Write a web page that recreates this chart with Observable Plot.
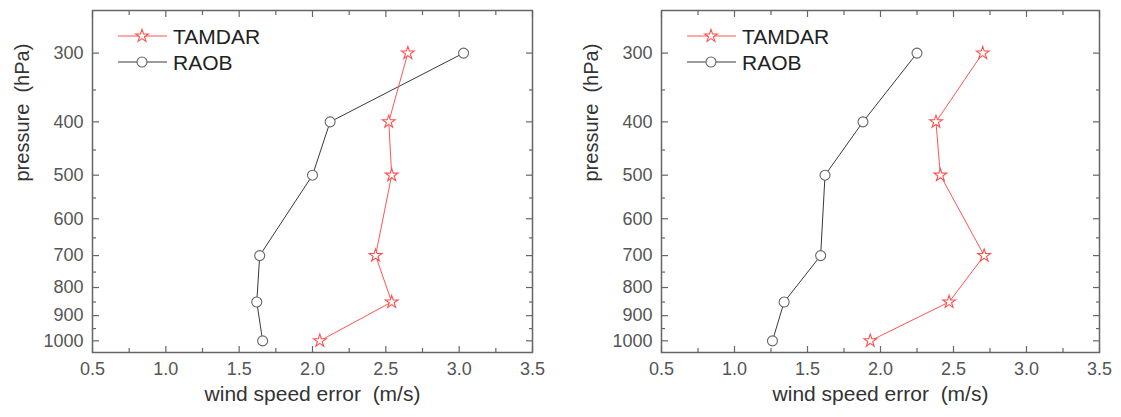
<!DOCTYPE html>
<html><head><meta charset="utf-8">
<script src="https://cdn.jsdelivr.net/npm/d3@7"></script>
<script src="https://cdn.jsdelivr.net/npm/@observablehq/plot@0.6"></script>
<style>
body{margin:0;background:#fff;}
#wrap{position:relative;width:1121px;height:417px;overflow:hidden;}
.panel{position:absolute;top:0;}
svg text{white-space:pre;}
</style></head><body><div id="wrap"></div>
<script>
// pressure levels (hPa)
const levels = [300, 400, 500, 700, 850, 1000];
const seriesNames = ["TAMDAR", "RAOB"];
// left panel: wind speed error (m/s)
const leftTamdar = [2.65, 2.52, 2.54, 2.43, 2.54, 2.05];
const leftRaob   = [3.03, 2.12, 2.00, 1.64, 1.62, 1.66];
// right panel
const rightTamdar = [2.70, 2.38, 2.41, 2.71, 2.47, 1.93];
const rightRaob   = [2.25, 1.88, 1.62, 1.59, 1.34, 1.26];
// ticks
const xTicks = [0.5, 1.0, 1.5, 2.0, 2.5, 3.0, 3.5];
const xMinorTicks = [0.75, 1.25, 1.75, 2.25, 2.75, 3.25];
const yTicks = [300, 400, 500, 600, 700, 800, 900, 1000];
const yMinorTicks = [350, 450, 550, 650, 750, 850, 950];
const xTitle = "wind speed error  (m/s)";
const yTitle = "pressure  (hPa)";

const colors = {TAMDAR: "#ff5454", RAOB: "#3a3a3a"};
const markerStroke = {TAMDAR: "#ff4f4f", RAOB: "#666"};
const FONT = "'Liberation Sans', Arial, Helvetica, sans-serif";

function panel(tam, raob, o) {
  const T = levels.map((p, i) => ({series: "TAMDAR", p, v: tam[i]}));
  const R = levels.map((p, i) => ({series: "RAOB", p, v: raob[i]}));
  const tickStyle = {stroke: "#666", strokeWidth: 1.2, tickFormat: () => "", label: null};
  const plot = Plot.plot({
    width: o.width, height: 417,
    marginLeft: o.ml, marginRight: o.mr, marginTop: 10, marginBottom: 65,
    style: {fontFamily: FONT, background: "white", color: "#555", overflow: "visible"},
    x: {domain: [0.5, 3.5]},
    y: {type: "log", domain: [251, 1050], reverse: true},
    marks: [
      Plot.line(R, {x: "v", y: "p", stroke: colors.RAOB, strokeWidth: 1}),
      Plot.line(T, {x: "v", y: "p", stroke: colors.TAMDAR, strokeWidth: 1}),
      Plot.dot(R, {x: "v", y: "p", r: 5, symbol: "circle", fill: "white", stroke: markerStroke.RAOB, strokeWidth: 1.1}),
      Plot.dot(T, {x: "v", y: "p", r: 4, symbol: "star", fill: "white", stroke: markerStroke.TAMDAR, strokeWidth: 1.1}),
      // tick labels
      Plot.axisX(xTicks, {anchor: "bottom", tickSize: 0, tickPadding: 10, tickFormat: d3.format(".1f"), fontSize: 18, fill: "#555", label: null}),
      Plot.axisY(yTicks, {anchor: "left", tickSize: 0, tickPadding: 9, tickFormat: d3.format("d"), fontSize: 18, fill: "#555", label: null}),
      // inward ticks
      Plot.axisX(xTicks, {anchor: "bottom", tickSize: -6, ...tickStyle}),
      Plot.axisX(xMinorTicks, {anchor: "bottom", tickSize: -4, ...tickStyle}),
      Plot.axisX(xTicks, {anchor: "top", tickSize: -6, ...tickStyle}),
      Plot.axisX(xMinorTicks, {anchor: "top", tickSize: -4, ...tickStyle}),
      Plot.axisY(yTicks, {anchor: "left", tickSize: -7, ...tickStyle}),
      Plot.axisY(yMinorTicks, {anchor: "left", tickSize: -4, ...tickStyle}),
      Plot.axisY(yTicks, {anchor: "right", tickSize: -7, ...tickStyle}),
      Plot.axisY(yMinorTicks, {anchor: "right", tickSize: -4, ...tickStyle}),
      // titles
      Plot.text([xTitle], {frameAnchor: "bottom", dy: 48, fontSize: 21, fill: "#333"}),
      Plot.text([yTitle], {frameAnchor: "left", dx: -70, rotate: -90, fontSize: 20, fill: "#333"}),
      Plot.frame({stroke: "#666", strokeWidth: 1.5})
    ]
  });
  // legend (inside the frame, top-left)
  const svg = d3.select(plot);
  const leg = svg.append("g").attr("transform", `translate(${o.ml},0)`).attr("text-anchor", "start");
  seriesNames.forEach((name, i) => {
    const y = 36 + i * 26;
    leg.append("line").attr("x1", 26).attr("x2", 75).attr("y1", y).attr("y2", y)
      .attr("stroke", colors[name]).attr("stroke-width", 1.2);
    const sym = name === "TAMDAR" ? d3.symbolStar : d3.symbolCircle;
    const rr = name === "TAMDAR" ? 4 : 5;
    leg.append("path").attr("d", d3.symbol(sym, Math.PI * rr * rr)())
      .attr("transform", `translate(50,${y})`)
      .attr("fill", "white").attr("stroke", markerStroke[name]).attr("stroke-width", 1.1);
    leg.append("text").attr("x", 81).attr("y", y).attr("dy", "0.36em")
      .attr("text-anchor", "start")
      .attr("font-size", 21).attr("fill", "#222").attr("font-family", FONT).text(name);
  });
  const div = document.createElement("div");
  div.className = "panel";
  div.style.left = o.left + "px";
  div.appendChild(plot);
  document.getElementById("wrap").appendChild(div);
}

panel(leftTamdar, leftRaob, {left: 0, width: 560, ml: 92, mr: 28});
panel(rightTamdar, rightRaob, {left: 560, width: 561, ml: 101, mr: 22});
</script></body></html>
